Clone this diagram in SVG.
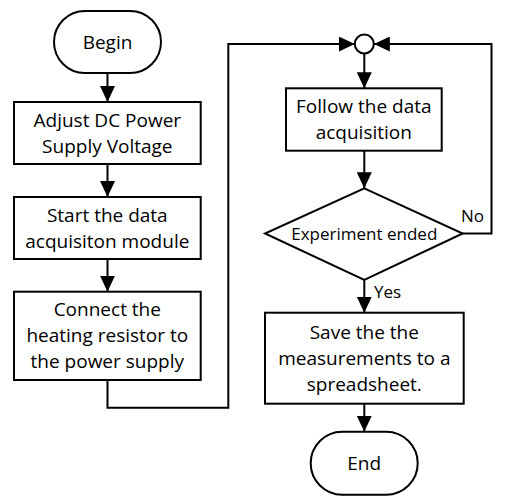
<svg xmlns="http://www.w3.org/2000/svg" width="507" height="502" viewBox="0 0 507 502">
<style>
.shape{fill:#fff;stroke:#000;stroke-width:2}
.conn{fill:none;stroke:#000;stroke-width:2}
.t{font-family:"Open Sans","DejaVu Sans",sans-serif;font-size:19px;fill:#000;text-anchor:middle}
.s{font-family:"Open Sans","DejaVu Sans",sans-serif;font-size:17px;fill:#000}
</style>
<defs>
<marker id="arr" markerUnits="userSpaceOnUse" markerWidth="16" markerHeight="15" refX="16" refY="7.5" orient="auto">
<path d="M0,0 L16,7.5 L0,15 Z" fill="#000"/>
</marker>
</defs>
<rect width="507" height="502" fill="#fff"/>
<g id="connectors">
<path class="conn" d="M107.5,73 V102" marker-end="url(#arr)"/>
<path class="conn" d="M107.5,164 V197" marker-end="url(#arr)"/>
<path class="conn" d="M107.5,259 V291.7" marker-end="url(#arr)"/>
<path class="conn" d="M107.5,380 V407.7 H228.3 V44 H354.8" marker-end="url(#arr)"/>
<path class="conn" d="M364.3,53.5 V88.3" marker-end="url(#arr)"/>
<path class="conn" d="M364.3,150.7 V188.3" marker-end="url(#arr)"/>
<path class="conn" d="M364.3,280 V312.7" marker-end="url(#arr)"/>
<path class="conn" d="M462.7,233.5 H491.5 V44 H373.8" marker-end="url(#arr)"/>
<path class="conn" d="M364.3,403.7 V431.7" marker-end="url(#arr)"/>
<text class="s" x="461" y="221.7">No</text>
<text class="s" x="374" y="297.5">Yes</text>
</g>
<g id="begin">
<rect class="shape" x="54" y="11" width="107" height="62" rx="31" ry="31"/>
<text class="t" x="107.5" y="48.7">Begin</text>
</g>
<g id="adjust">
<rect class="shape" x="14" y="102" width="186.7" height="62"/>
<text class="t" x="107.3" y="126.7">Adjust DC Power</text>
<text class="t" x="107.3" y="152.7">Supply Voltage</text>
</g>
<g id="start">
<rect class="shape" x="14" y="197" width="186.7" height="62"/>
<text class="t" x="107.3" y="221.7">Start the data</text>
<text class="t" x="107.3" y="247.7">acquisiton module</text>
</g>
<g id="connect">
<rect class="shape" x="14" y="291.7" width="186.7" height="88.3"/>
<text class="t" x="107.3" y="315.7">Connect the</text>
<text class="t" x="107.3" y="341.7">heating resistor to</text>
<text class="t" x="107.3" y="367.7">the power supply</text>
</g>
<g id="junction">
<circle class="shape" cx="364.3" cy="44" r="9.5"/>
</g>
<g id="follow">
<rect class="shape" x="286" y="88.3" width="155.7" height="62.4"/>
<text class="t" x="363.8" y="112.5">Follow the data</text>
<text class="t" x="363.8" y="138.5">acquisition</text>
</g>
<g id="decision">
<polygon class="shape" points="364.3,188.3 462.7,233.5 364.3,280 265,233.5"/>
<text class="s" x="364.3" y="240" text-anchor="middle">Experiment ended</text>
</g>
<g id="save">
<rect class="shape" x="265" y="312.7" width="198.7" height="91"/>
<text class="t" x="364.3" y="338.5">Save the the</text>
<text class="t" x="364.3" y="364.5">measurements to a</text>
<text class="t" x="364.3" y="390.5">spreadsheet.</text>
</g>
<g id="end">
<rect class="shape" x="310.7" y="431.7" width="107" height="63" rx="31.5" ry="31.5"/>
<text class="t" x="364.2" y="470">End</text>
</g>
</svg>
